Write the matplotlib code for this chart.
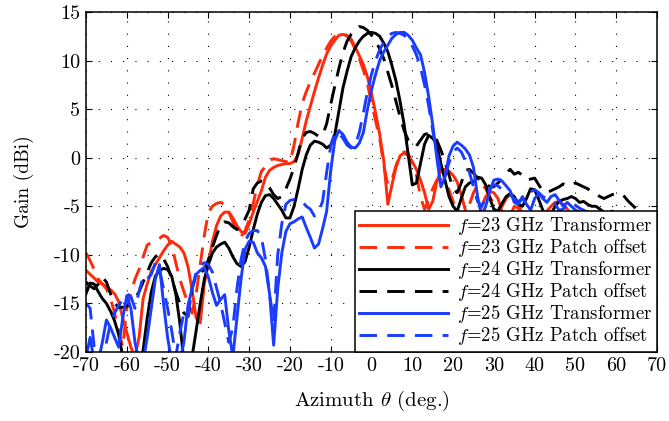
import matplotlib
matplotlib.use('Agg')
import matplotlib.pyplot as plt
import numpy as np

plt.rcParams['font.family'] = ['cmr10', 'DejaVu Serif']
plt.rcParams['mathtext.fontset'] = 'cm'
plt.rcParams['axes.unicode_minus'] = False
plt.rcParams['axes.formatter.use_mathtext'] = True

# azimuth sampling (deg), one value per degree
azimuth = np.arange(-70, 71)

# gain in dBi
gain_23_tr = [
    -11.6, -12.0, -12.4, -12.8, -13.0, -13.3, -13.6, -14.0, -14.8, -16.5,
    -18.0, -19.5, -20.5, -18.5, -14.5, -13.0, -11.7, -11.0, -10.3, -9.6,
    -9.0, -8.6, -8.9, -9.2, -9.8, -11.2, -13.6, -16.5, -17.0, -13.0,
    -10.8, -8.6, -7.0, -6.0, -5.6, -5.6, -6.2, -7.0, -7.6, -7.8,
    -6.8, -5.6, -4.5, -3.4, -2.0, -1.3, -1.0, -0.8, -0.7, -0.6,
    -0.6, -0.4, 0.3, 2.0, 3.8, 5.3, 6.8, 8.2, 9.5, 10.7,
    11.5, 12.1, 12.6, 12.7, 12.6, 12.2, 11.4, 10.5, 9.6, 8.3,
    6.6, 4.6, 2.4, -0.3, -4.8, -2.8, -1.0, 0.2, 0.5, 0.2,
    -0.4, -1.2, -2.3, -3.6, -5.3, -4.5, -2.5, -1.3, -1.2, -1.4,
    -1.8, -2.5, -3.8, -5.4, -6.8, -7.5, -6.5, -5.0, -4.0, -3.5,
    -3.6, -4.2, -5.5, -6.5, -6.0, -5.0, -5.2, -6.0, -6.8, -7.5,
    -7.2, -6.5, -6.0, -5.5, -5.0, -4.6, -4.5, -4.8, -5.3, -5.8,
    -6.3, -6.8, -7.3, -7.6, -7.5, -7.0, -6.5, -6.2, -6.4, -6.8,
    -6.5, -6.0, -5.7, -6.0, -6.6, -7.2, -7.5, -7.6, -7.8, -8.2, -8.6,
]
gain_23_po = [
    -9.8, -10.6, -11.5, -12.5, -13.0, -13.5, -14.5, -16.0, -17.8, -19.5,
    -15.5, -14.0, -12.5, -11.5, -10.2, -9.0, -8.7, -8.5, -8.3, -8.0,
    -8.2, -9.0, -10.8, -12.5, -13.8, -15.0, -16.0, -14.0, -11.0, -8.0,
    -5.6, -5.0, -4.7, -4.6, -4.8, -5.6, -6.6, -7.6, -8.1, -7.5,
    -6.4, -4.7, -2.8, -1.4, -0.9, -0.3, -0.1, -0.2, -0.3, -0.4,
    -0.5, 1.3, 3.6, 5.6, 6.8, 7.8, 8.7, 9.6, 10.5, 11.3,
    12.0, 12.5, 12.7, 12.7, 12.5, 12.0, 11.2, 10.2, 9.0, 7.6,
    5.6, 3.8, 2.0, -0.8, -2.8, -2.3, -0.8, 0.3, 0.6, 0.4,
    -0.5, -1.8, -4.0, -5.3, -4.4, -3.2, -2.3, -2.2, -2.6, -3.3,
    -4.5, -5.8, -6.5, -6.0, -4.8, -3.6, -2.8, -2.7, -3.2, -4.0,
    -4.8, -5.3, -5.0, -4.2, -3.8, -4.0, -4.8, -5.8, -6.5, -6.8,
    -6.5, -6.0, -5.6, -5.6, -5.9, -6.5, -7.2, -7.6, -7.4, -6.8,
    -6.2, -5.8, -5.9, -6.3, -6.8, -7.2, -7.0, -6.5, -6.0, -5.7,
    -5.8, -6.2, -6.8, -7.3, -7.5, -7.2, -6.8, -7.0, -7.5, -8.0, -8.5,
]
gain_24_tr = [
    -14.0, -12.9, -13.0, -13.8, -14.5, -15.0, -15.8, -16.8, -18.2, -20.5,
    -22.0, -22.0, -22.0, -22.0, -19.8, -16.5, -13.8, -12.2, -11.6, -11.4,
    -11.5, -12.2, -14.0, -17.0, -21.0, -22.0, -20.5, -17.8, -15.0, -12.5,
    -11.0, -9.8, -9.2, -8.9, -8.7, -9.3, -10.2, -10.9, -11.2, -10.7,
    -9.2, -7.4, -5.8, -4.6, -3.9, -3.8, -4.2, -4.8, -5.4, -6.2,
    -6.2, -5.0, -3.2, -1.2, 0.3, 1.3, 1.7, 1.6, 1.4, 1.0,
    1.3, 2.4, 4.8, 7.2, 8.9, 10.4, 11.3, 12.0, 12.5, 12.8,
    12.9, 12.8, 12.5, 11.8, 10.9, 9.5, 7.9, 5.8, 3.4, 0.3,
    -2.8, -2.6, -0.6, 1.4, 2.3, 2.0, 1.4, -0.6, -2.3, -4.0,
    -5.0, -5.5, -4.2, -3.0, -2.6, -2.5, -2.0, -2.1, -2.8, -4.2,
    -5.3, -5.5, -4.7, -4.0, -3.7, -4.0, -4.8, -5.0, -4.2, -3.2,
    -3.3, -4.3, -5.4, -6.2, -5.8, -5.0, -4.5, -4.3, -4.2, -4.0,
    -4.2, -4.6, -4.5, -4.8, -5.0, -5.0, -5.3, -5.6, -5.8, -5.5,
    -5.8, -6.2, -6.5, -6.3, -6.4, -6.6, -6.7, -6.8, -7.0, -7.2, -7.5,
]
gain_24_po = [
    -12.8, -13.2, -13.5, -13.0, -12.3, -12.8, -14.0, -15.0, -15.4, -15.4,
    -15.3, -14.9, -14.5, -13.8, -12.8, -11.8, -10.8, -10.2, -9.9, -10.4,
    -11.2, -12.4, -13.8, -15.0, -16.0, -16.3, -13.5, -12.0, -11.9, -11.5,
    -10.5, -9.2, -8.0, -6.9, -6.6, -6.7, -7.1, -7.4, -7.0, -6.3,
    -5.4, -3.2, -2.6, -2.4, -2.5, -3.1, -3.8, -4.2, -4.0, -3.2,
    -2.2, -1.0, 0.5, 2.0, 2.6, 2.7, 2.5, 2.2, 2.3, 3.5,
    5.5, 7.4, 9.2, 10.8, 12.0, 12.7, 13.2, 13.5, 13.4, 13.1,
    12.6, 12.0, 11.2, 10.2, 8.8, 7.4, 5.8, 4.2, 2.8, 1.8,
    1.3, 1.2, 1.8, 2.4, 2.5, 2.3, 1.8, 0.8, -0.4, -1.8,
    -3.2, -3.6, -2.6, -1.3, -1.2, -1.6, -2.1, -2.4, -2.6, -3.0,
    -3.0, -2.6, -2.2, -1.6, -1.2, -1.7, -1.5, -1.8, -2.3, -2.2,
    -2.1, -2.8, -3.4, -3.6, -3.4, -3.2, -3.0, -2.7, -2.9, -2.8,
    -2.6, -2.8, -3.0, -3.2, -3.5, -3.7, -4.0, -4.2, -4.0, -3.8,
    -3.7, -3.7, -4.0, -4.5, -4.9, -5.3, -5.7, -6.2, -6.5, -6.8, -7.0,
]
gain_25_tr = [
    -20.5, -18.5, -21.0, -21.0, -19.0, -16.7, -17.5, -18.5, -19.5, -16.5,
    -14.2, -15.5, -19.0, -21.0, -21.0, -18.5, -15.5, -12.5, -11.0, -15.0,
    -18.5, -21.0, -21.0, -21.0, -19.0, -15.2, -13.5, -12.0, -11.6, -11.3,
    -12.3, -13.9, -15.2, -14.6, -14.1, -17.8, -20.5, -16.5, -12.5, -9.4,
    -8.6, -8.7, -9.8, -10.3, -11.2, -14.0, -19.3, -13.5, -9.8, -7.6,
    -6.8, -6.6, -6.3, -6.1, -7.2, -8.2, -9.3, -8.9, -7.3, -5.5,
    -1.3, 1.8, 2.8, 2.4, 1.6, 1.1, 1.0, 1.5, 2.6, 5.0,
    7.0, 8.6, 10.0, 10.9, 11.6, 12.3, 12.7, 12.9, 12.9, 12.6,
    12.1, 11.3, 10.6, 8.8, 6.3, 3.4, 0.0, -3.0, -2.0, 0.2,
    1.2, 1.6, 1.3, 0.9, 0.3, -1.0, -4.0, -6.0, -5.0, -3.4,
    -2.3, -2.2, -2.4, -2.9, -3.4, -4.6, -4.8, -4.0, -4.8, -5.4,
    -4.2, -3.7, -4.2, -4.6, -4.0, -3.8, -4.4, -5.0, -4.6, -5.0,
    -5.4, -5.6, -6.0, -6.6, -7.0, -6.9, -6.5, -6.3, -6.1, -6.4,
    -6.6, -6.3, -6.1, -6.2, -6.6, -6.9, -7.2, -7.5, -7.8, -8.0, -8.2,
]
gain_25_po = [
    -15.0, -15.5, -19.5, -21.0, -21.0, -19.0, -17.0, -16.0, -15.2, -14.6,
    -14.0, -14.3, -15.5, -13.8, -12.2, -12.5, -12.0, -10.8, -11.5, -13.5,
    -15.5, -17.8, -20.5, -18.0, -16.0, -16.5, -13.4, -11.8, -11.2, -10.8,
    -11.0, -11.8, -13.4, -15.0, -17.0, -19.0, -17.5, -13.5, -10.5, -8.6,
    -7.8, -7.5, -7.5, -8.2, -10.5, -14.0, -17.0, -10.0, -6.8, -4.8,
    -4.4, -4.3, -4.4, -4.5, -5.0, -5.3, -6.0, -5.6, -4.5, -1.5,
    1.2, 2.6, 2.5, 2.0, 1.3, 1.0, 1.3, 2.6, 4.6, 6.8,
    8.6, 10.0, 11.1, 11.9, 12.5, 12.8, 12.9, 12.8, 12.6, 12.2,
    11.5, 10.6, 9.3, 7.5, 5.4, 2.8, 0.5, -1.5, -2.0, -0.5,
    0.6, 1.0, 0.6, -0.3, -1.5, -3.0, -4.5, -5.0, -4.2, -3.2,
    -2.8, -2.9, -3.3, -3.6, -3.8, -4.2, -4.5, -4.3, -3.9, -3.5,
    -3.3, -3.6, -4.0, -4.2, -4.4, -4.8, -5.4, -5.3, -4.8, -4.6,
    -4.9, -5.2, -5.4, -5.6, -5.9, -6.2, -6.3, -6.1, -5.8, -5.7,
    -6.0, -6.4, -6.2, -5.9, -6.1, -6.5, -6.9, -7.3, -7.6, -7.9, -8.2,
]

labels = [
    '$f$=23 GHz Transformer', '$f$=23 GHz Patch offset',
    '$f$=24 GHz Transformer', '$f$=24 GHz Patch offset',
    '$f$=25 GHz Transformer', '$f$=25 GHz Patch offset',
]
xticks = [-70, -60, -50, -40, -30, -20, -10, 0, 10, 20, 30, 40, 50, 60, 70]
yticks = [-20, -15, -10, -5, 0, 5, 10, 15]

red = '#ff2a0a'
blue = '#1a3cff'
dash = (0, (6, 3.5))

fig = plt.figure(figsize=(6.69, 4.21), dpi=100)
ax = fig.add_axes([0.1286, 0.1639, 0.8535, 0.8076])

series = [
    (gain_23_tr, red, '-'), (gain_23_po, red, dash),
    (gain_24_tr, 'black', '-'), (gain_24_po, 'black', dash),
    (gain_25_tr, blue, '-'), (gain_25_po, blue, dash),
]
for (g, c, ls), lab in zip(series, labels):
    ax.plot(azimuth, g, color=c, linestyle=ls, linewidth=2.1, label=lab)

ax.set_xlim(-70, 70)
ax.set_ylim(-20, 15)
ax.set_xticks(xticks)
ax.set_xticklabels([str(t) for t in xticks])
ax.set_yticks(yticks)
ax.set_yticklabels([str(t) for t in yticks])
ax.tick_params(direction='in', top=True, right=True, length=4, width=0.8,
               labelsize=14.5, pad=4, colors='black')
ax.grid(True, color='black', linestyle=(0, (1, 10)), linewidth=0.8)
for s in ax.spines.values():
    s.set_linewidth(1.1)

ax.set_xlabel(r'Azimuth $\theta$ (deg.)', fontsize=15, labelpad=10)
ax.set_ylabel('Gain (dBi)', fontsize=14, labelpad=14)

leg = ax.legend(loc='lower right', bbox_to_anchor=(1.0, 0.0), borderaxespad=0,
                fontsize=13.5, handlelength=4.7, handletextpad=0.5,
                labelspacing=0.0, borderpad=0.25, fancybox=False,
                framealpha=1, edgecolor='black')
leg.get_frame().set_linewidth(1.1)

fig.savefig('out.png', dpi=100)
